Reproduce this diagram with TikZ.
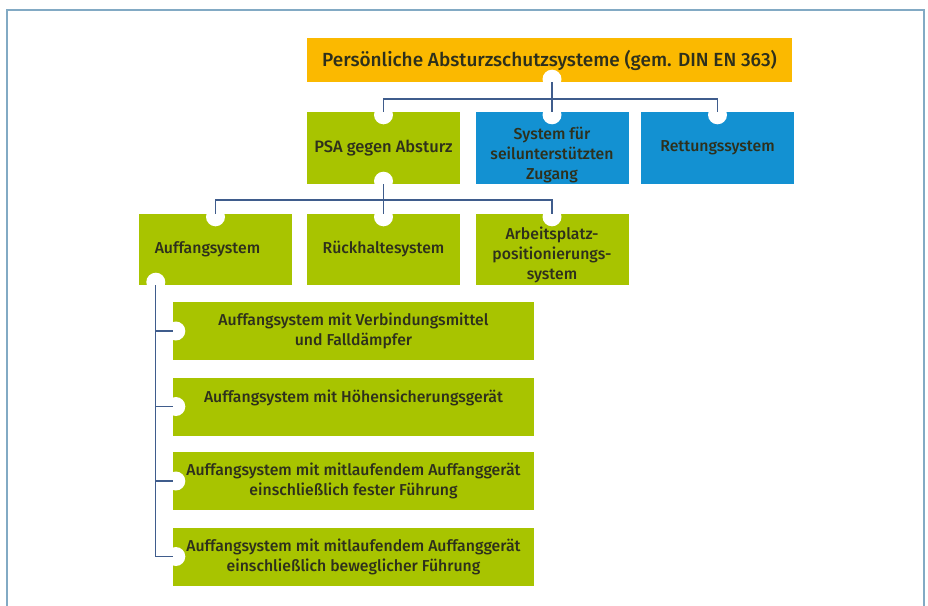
\documentclass[tikz,border=0pt]{standalone}
\usepackage{fontspec}
\setmainfont{Fira Sans}[BoldFont={Fira Sans Medium}]
\definecolor{topgelb}{HTML}{FBB900}
\definecolor{psagruen}{HTML}{A8C400}
\definecolor{seilblau}{HTML}{1391D2}
\definecolor{textdunkel}{HTML}{2E301C}
\definecolor{linienblau}{HTML}{3F5C8C}
\definecolor{rahmen}{HTML}{82AAC4}
\begin{document}
\begin{tikzpicture}[
    x=1pt, y=-1pt,
    box/.style={rectangle, inner sep=0pt, align=center, text=textdunkel,
                font=\bfseries\fontsize{15.8}{20}\selectfont},
    gruen/.style={box, fill=psagruen, minimum width=153pt, minimum height=71pt},
    blau/.style={box, fill=seilblau, minimum width=153pt, minimum height=72pt},
    breit/.style={box, fill=psagruen, minimum width=361pt, minimum height=58pt},
    kerbe/.style={circle, fill=white, minimum size=19pt, inner sep=0pt},
    link/.style={draw=linienblau, line width=1.2pt}
]
  \useasboundingbox (0,0) rectangle (928,605);
  \draw[rahmen, line width=1.5pt] (7,606) -- (7,10) -- (924,10) -- (924,606);

  % Kästen
  \node[box, fill=topgelb, minimum width=485pt, minimum height=44pt,
        font=\bfseries\fontsize{19}{22}\selectfont] (top) at (549.5,60)
        {Persönliche Absturzschutzsysteme (gem. DIN EN 363)};

  \node[gruen, minimum height=72pt, font=\bfseries\fontsize{16.5}{20}\selectfont] (psa) at (383.5,148) {PSA gegen Absturz};
  \node[blau] (seil) at (552,148) {};
  \node[box] (seiltext) at ([yshift=-7pt]seil.center) {System für\\seilunterstützten\\Zugang};
  \node[blau] (rett) at (717.5,148) {Rettungssystem};

  \node[gruen] (auff) at (215.5,249.5) {Auffangsystem\hspace*{16pt}};
  \node[gruen] (rueck) at (383.5,249.5) {Rückhaltesystem};
  \node[gruen] (arb) at (552,249.5) {};
  \node[box] (arbtext) at ([yshift=-5pt]arb.center) {Arbeitsplatz-\\positionierungs-\\system};

  \node[breit] (a1) at (353.5,331) {Auffangsystem mit Verbindungsmittel\\und Falldämpfer};
  \node[breit] (a2) at (353.5,406.5) {Auffangsystem mit Höhensicherungsgerät\\\mbox{}};
  \node[breit] (a3) at (353.5,481) {Auffangsystem mit mitlaufendem Auffanggerät\\einschließlich fester Führung};
  \node[breit] (a4) at (353.5,556.5) {Auffangsystem mit mitlaufendem Auffanggerät\\einschließlich beweglicher Führung};

  % Kerben
  \coordinate (stamm) at ([xshift=17pt]auff.south west);
  \node[kerbe] at ([yshift=3pt]top.south -| seil.north) {};
  \node[kerbe] at ([yshift=-3pt]psa.north) {};
  \node[kerbe] at ([yshift=-3pt]seil.north) {};
  \node[kerbe] at ([yshift=-3pt]rett.north) {};
  \node[kerbe] at ([yshift=3pt]psa.south) {};
  \node[kerbe] at ([yshift=-3pt]auff.north) {};
  \node[kerbe] at ([yshift=-3pt]rueck.north) {};
  \node[kerbe] at ([yshift=-3pt]arb.north) {};
  \node[kerbe] at ([yshift=3pt]stamm) {};
  \foreach \i in {1,2,3,4}
    \node[kerbe] at ([xshift=3pt]a\i.west) {};

  % Verbindungen
  \coordinate (bus1) at (552,99);
  \coordinate (bus2) at (383.5,200);
  \draw[link] (top.south -| seil.north) -- (seil.north);
  \draw[link] (psa.north) |- (bus1) -| (rett.north);
  \draw[link] (psa.south) -- (rueck.north);
  \draw[link] (auff.north) |- (bus2) -| (arb.north);
  \draw[link] (stamm) -- (stamm |- a4.west) -- (a4.west);
  \foreach \i in {1,2,3}
    \draw[link] (stamm |- a\i.west) -- (a\i.west);

\end{tikzpicture}
\end{document}
